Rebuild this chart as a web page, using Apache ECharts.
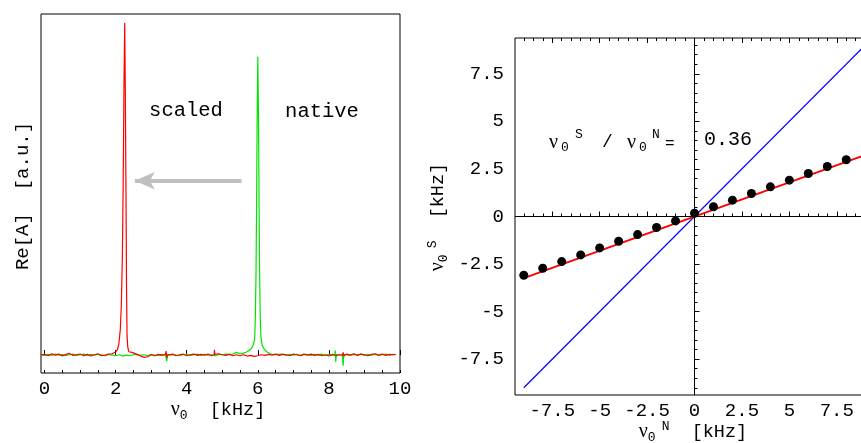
<!DOCTYPE html>
<html><head><meta charset="utf-8">
<script src="https://cdn.jsdelivr.net/npm/echarts@6/dist/echarts.min.js"></script>
<style>html,body{margin:0;padding:0;background:#fff}#c{width:861px;height:443px}</style>
</head><body><div id="c"></div>
<script>
// ---- Left panel: spectra (x in kHz, y in a.u.) ----
const redSpectrum = [[-0.1,0.001],[0,0.002],[0.1,-0.002],[0.2,0.004],[0.3,0],[0.4,0.003],[0.5,-0.003],[0.6,0.002],[0.7,0.005],[0.8,-0.001],[0.9,0.001],[1,0.003],[1.1,-0.002],[1.2,0.002],[1.3,-0.003],[1.4,0.001],[1.5,0.004],[1.6,-0.002],[1.7,0],[1.8,0.003],[1.9,0.004],
 [2.0,0.009],[2.05,0.016],[2.09,0.034],[2.13,0.075],[2.16,0.15],[2.19,0.3],[2.215,0.55],[2.235,0.82],[2.255,1],[2.272,0.8],[2.29,0.5],[2.305,0.22],[2.32,0.06],[2.34,0.025],[2.37,0.01],[2.4,0.008],[2.42,0.012],[2.46,0.008],[2.5,0.004],
 [2.6,0.002],[2.7,-0.003],[2.8,-0.007],[2.85,-0.002],[2.9,-0.005],[3,0.001],[3.1,-0.002],[3.2,0.002],[3.3,-0.001],[3.4,0.002],[3.42,0.012],[3.44,-0.008],[3.46,0.001],[3.6,0.002],[3.7,-0.002],[3.8,0.001],[3.9,0.003],[4,-0.002],[4.1,0.001],[4.2,0.003],[4.3,-0.001],[4.4,0.002],[4.5,0],[4.6,0.003],[4.7,-0.002],[4.77,0.001],[4.78,0.016],[4.79,0.002],[4.9,0.004],[5,0.001],[5.1,-0.001],[5.2,0.002],[5.3,-0.002],[5.4,0.001],[5.5,-0.002],[5.6,0.001],[5.7,-0.003],[5.8,-0.001],[5.9,-0.004],[6,-0.002],[6.1,0.001],[6.2,-0.001],[6.3,0.002],[6.4,0],[6.5,0.003],[6.6,-0.001],[6.7,0.002],[6.8,0.001],[6.9,-0.002],[7,0.003],[7.1,0.001],[7.2,-0.002],[7.3,0.002],[7.4,0],[7.5,0.003],[7.6,-0.001],[7.7,0.002],[7.8,-0.002],[7.9,0.001],[8,-0.003],[8.1,0.002],[8.2,-0.002],[8.3,0.001],[8.38,0],[8.4,0.008],[8.42,-0.003],[8.5,0.003],[8.6,0],[8.7,0.004],[8.8,-0.001],[8.9,0.003],[9,0.001],[9.1,-0.002],[9.2,0.002],[9.3,0.004],[9.4,0],[9.5,0.003],[9.6,-0.001],[9.7,0.002],[9.8,0.001],[9.88,0.002]];
const greenSpectrum = [[-0.1,0],[0,-0.001],[0.1,0.002],[0.2,-0.001],[0.3,0.003],[0.4,0],[0.5,0.002],[0.6,-0.002],[0.7,0.001],[0.8,0.003],[0.9,-0.001],[1,0.001],[1.1,0.003],[1.2,-0.001],[1.3,0.002],[1.4,0],[1.5,0.002],[1.6,0.001],[1.7,-0.002],[1.8,0.002],[1.9,0],[2,-0.002],[2.1,0.001],[2.2,-0.003],[2.3,0],[2.4,-0.002],[2.5,0.001],[2.6,0.002],[2.7,-0.001],[2.8,0.001],[2.9,-0.002],[3,0.002],[3.1,0],[3.2,-0.001],[3.3,0.002],[3.4,0],[3.42,-0.006],[3.44,-0.018],[3.46,-0.002],[3.5,0.001],[3.6,0.003],[3.7,0],[3.8,-0.002],[3.9,0.001],[4,0.002],[4.1,-0.001],[4.2,0.001],[4.3,0.003],[4.4,-0.001],[4.5,0.002],[4.6,0],[4.7,0.001],[4.8,-0.002],[4.9,0.002],[5,0.001],[5.1,0.003],[5.2,0.002],[5.3,0.003],[5.4,0.008],[5.45,0.007],[5.5,0.004],
 [5.6,0.006],[5.7,0.01],[5.75,0.013],[5.82,0.02],[5.88,0.032],[5.91,0.05],[5.93,0.11],[5.95,0.25],[5.965,0.45],[5.98,0.7],[6,0.898],[6.02,0.7],[6.035,0.45],[6.05,0.25],[6.07,0.11],[6.09,0.05],[6.12,0.03],[6.18,0.018],[6.25,0.01],[6.35,0.004],[6.45,0.001],
 [6.55,0.002],[6.6,0],[6.7,0.003],[6.8,-0.001],[6.9,0.002],[7,0],[7.1,0.002],[7.2,-0.001],[7.3,0.003],[7.4,0.001],[7.5,-0.001],[7.6,0.002],[7.7,0],[7.8,0.003],[7.9,-0.001],[8,0.002],[8.1,0],[8.17,0.001],[8.18,0.014],[8.19,-0.02],[8.21,0.002],[8.3,0.001],[8.38,0],[8.4,-0.032],[8.42,0.002],[8.5,0.001],[8.6,-0.001],[8.7,0.002],[8.8,0],[8.9,0.003],[9,-0.001],[9.1,0.002],[9.2,0],[9.3,0.002],[9.4,-0.001],[9.5,0.001],[9.6,0.003],[9.7,0],[9.8,0.002],[9.88,0.001]];
const leftXLabels = [0, 2, 4, 6, 8, 10];
const leftXMinor = [0,0.5,1,1.5,2,2.5,3,3.5,4,4.5,5,5.5,6,6.5,7,7.5,8,8.5,9,9.5,10];
const arrowFrom = [5.54, 0.525];
const arrowTo = [2.54, 0.525];

// ---- Right panel: scaled vs native frequency (kHz) ----
const nativeFreq = [-9,-8,-7,-6,-5,-4,-3,-2,-1,0,1,2,3,4,5,6,7,8];
const scaledFreq = [-3.09,-2.72,-2.37,-2.02,-1.65,-1.30,-0.95,-0.58,-0.23,0.17,0.51,0.86,1.21,1.56,1.91,2.26,2.63,2.98];
const identityX = [-9, 9.4];
const identityY = [-9, 9.4];
const fitX = [-9, 9.4];
const fitY = [-3.24, 3.38];
const ratioText = '0.36';
const rightLabels = [-7.5, -5, -2.5, 0, 2.5, 5, 7.5];
const rightMinor = [-9,-8.5,-8,-7.5,-7,-6.5,-6,-5.5,-5,-4.5,-4,-3.5,-3,-2.5,-2,-1.5,-1,-0.5,0,0.5,1,1.5,2,2.5,3,3.5,4,4.5,5,5.5,6,6.5,7,7.5,8,8.5,9];

const MONO = '"Liberation Mono", "DejaVu Sans Mono", monospace';
const SERIF = '"Liberation Serif", "DejaVu Serif", serif';
const tickFont = {color:'#000', fontFamily: MONO, fontSize: 19};

function valAxis(o){
  return Object.assign({type:'value', splitLine:{show:false}, axisLine:{show:false}}, o);
}
const LX = {min:-0.1, max:10};
const RX = {min:-9.463, max:9.41};
const RY = {min:-9.38, max:9.38};

const chart = echarts.init(document.getElementById('c'), null, {renderer:'canvas'});
chart.setOption({
  animation:false,
  backgroundColor:'#fff',
  grid:[
    {left:41, top:14, width:359, height:359, show:true, borderColor:'#000', borderWidth:1, containLabel:false, outerBoundsMode:'none'},
    {left:515, top:38, width:358, height:357, show:true, borderColor:'#000', borderWidth:1, containLabel:false, outerBoundsMode:'none'}
  ],
  xAxis:[
    valAxis(Object.assign({gridIndex:0, position:'bottom', axisTick:{show:true, inside:true, length:5, customValues:leftXLabels, lineStyle:{color:'#000'}}, axisLabel:Object.assign({show:true, margin:6, customValues:leftXLabels}, tickFont)}, LX)),
    valAxis(Object.assign({gridIndex:0, position:'bottom', axisTick:{show:true, inside:true, length:3, customValues:leftXMinor, lineStyle:{color:'#000'}}, axisLabel:{show:false}}, LX)),
    valAxis(Object.assign({gridIndex:1, position:'bottom', axisTick:{show:true, inside:true, length:5, customValues:rightLabels, lineStyle:{color:'#000'}}, axisLabel:Object.assign({show:true, margin:6, customValues:rightLabels}, tickFont)}, RX)),
    valAxis(Object.assign({gridIndex:1, position:'bottom', axisTick:{show:true, inside:true, length:3, customValues:rightMinor, lineStyle:{color:'#000'}}, axisLabel:{show:false}}, RX)),
    valAxis(Object.assign({gridIndex:1, position:'top', axisTick:{show:true, inside:true, length:5, customValues:rightLabels, lineStyle:{color:'#000'}}, axisLabel:{show:false}}, RX)),
    valAxis(Object.assign({gridIndex:1, position:'top', axisTick:{show:true, inside:true, length:3, customValues:rightMinor, lineStyle:{color:'#000'}}, axisLabel:{show:false}}, RX))
  ],
  yAxis:[
    valAxis({gridIndex:0, min:-0.054, max:1.027, axisTick:{show:false}, axisLabel:{show:false}}),
    valAxis(Object.assign({gridIndex:1, position:'left', axisTick:{show:true, inside:true, length:5, customValues:rightLabels, lineStyle:{color:'#000'}}, axisLabel:Object.assign({show:true, margin:11, customValues:rightLabels}, tickFont)}, RY)),
    valAxis(Object.assign({gridIndex:1, position:'left', axisTick:{show:true, inside:true, length:3, customValues:rightMinor, lineStyle:{color:'#000'}}, axisLabel:{show:false}}, RY))
  ],
  series:[
    {type:'line', xAxisIndex:0, yAxisIndex:0, data:greenSpectrum, showSymbol:false, symbol:'none', lineStyle:{color:'#00e600', width:1.2}, z:2},
    {type:'line', xAxisIndex:0, yAxisIndex:0, data:redSpectrum, showSymbol:false, symbol:'none', lineStyle:{color:'#ff0000', width:1.2}, z:3,
      markLine:{silent:true, symbol:['none','arrow'], symbolSize:[13,20], label:{show:false},
        lineStyle:{color:'#bfbfbf', width:4, type:'solid'},
        data:[[{coord:arrowFrom},{coord:arrowTo}]]}},
    // zero reference lines spanning the axis range
    {type:'line', xAxisIndex:2, yAxisIndex:1, data:[[0, RY.min],[0, RY.max]], showSymbol:false, symbol:'none', silent:true, lineStyle:{color:'#000', width:1, type:'solid'}, z:1},
    {type:'line', xAxisIndex:2, yAxisIndex:1, data:[[RX.min, 0],[RX.max, 0]], showSymbol:false, symbol:'none', silent:true, lineStyle:{color:'#000', width:1, type:'solid'}, z:1},
    {type:'line', xAxisIndex:2, yAxisIndex:1, data:identityX.map((x,i)=>[x, identityY[i]]), showSymbol:false, symbol:'none', lineStyle:{color:'#0000ff', width:1.2}, z:3},
    {type:'line', xAxisIndex:2, yAxisIndex:1, data:fitX.map((x,i)=>[x, fitY[i]]), showSymbol:false, symbol:'none', lineStyle:{color:'#ff0000', width:2}, z:4},
    {type:'scatter', xAxisIndex:2, yAxisIndex:1, data:nativeFreq.map((x,i)=>[x, scaledFreq[i]]), symbol:'circle', symbolSize:9, itemStyle:{color:'#000', opacity:1}, z:5}
  ],
  graphic:[
    {type:'text', x:186, y:111, style:{text:'scaled', font:'20.5px '+MONO, fill:'#000', align:'center', verticalAlign:'middle'}},
    {type:'text', x:322, y:112, style:{text:'native', font:'20.5px '+MONO, fill:'#000', align:'center', verticalAlign:'middle'}},
    {type:'text', x:23, y:196, rotation:Math.PI/2, style:{text:'Re[A]  [a.u.]', font:'19px '+MONO, fill:'#000', align:'center', verticalAlign:'middle'}},
    {type:'text', x:218, y:410, style:{text:'{nu|ν}{sub|0}{t|  [kHz]}', align:'center', verticalAlign:'middle', fill:'#000',
      rich:{nu:{fontFamily:SERIF, fontSize:20, lineHeight:24, fill:'#000'}, sub:{fontFamily:MONO, fontSize:13, lineHeight:14, verticalAlign:'bottom', fill:'#000'}, t:{fontFamily:MONO, fontSize:18.5, lineHeight:24, fill:'#000'}}}},
    {type:'text', x:693, y:432, style:{text:'{nu|ν}{sub|0}{sup|N}{t|  [kHz]}', align:'center', verticalAlign:'middle', fill:'#000',
      rich:{nu:{fontFamily:SERIF, fontSize:20, lineHeight:24, fill:'#000'}, sub:{fontFamily:MONO, fontSize:13, lineHeight:14, verticalAlign:'bottom', fill:'#000'}, sup:{fontFamily:MONO, fontSize:13, lineHeight:14, verticalAlign:'top', padding:[0,0,0,6], fill:'#000'}, t:{fontFamily:MONO, fontSize:18.5, lineHeight:24, fill:'#000'}}}},
    {type:'text', x:438, y:217, rotation:Math.PI/2, style:{text:'{nu|ν}{sub|0}{sup|S}{t|  [kHz]}', align:'center', verticalAlign:'middle', fill:'#000',
      rich:{nu:{fontFamily:SERIF, fontSize:20, lineHeight:24, fill:'#000'}, sub:{fontFamily:MONO, fontSize:13, lineHeight:14, verticalAlign:'bottom', fill:'#000'}, sup:{fontFamily:MONO, fontSize:13, lineHeight:14, verticalAlign:'top', padding:[0,0,0,6], fill:'#000'}, t:{fontFamily:MONO, fontSize:18.5, lineHeight:24, fill:'#000'}}}},
    {type:'text', x:549, y:143, style:{text:'ν', font:'20px '+SERIF, fill:'#000', align:'left', verticalAlign:'middle'}},
    {type:'text', x:561, y:148, style:{text:'0', font:'13px '+MONO, fill:'#000', align:'left', verticalAlign:'middle'}},
    {type:'text', x:575, y:135, style:{text:'S', font:'13px '+MONO, fill:'#000', align:'left', verticalAlign:'middle'}},
    {type:'text', x:602, y:142, style:{text:'/', font:'18px '+MONO, fill:'#000', align:'left', verticalAlign:'middle'}},
    {type:'text', x:627, y:143, style:{text:'ν', font:'20px '+SERIF, fill:'#000', align:'left', verticalAlign:'middle'}},
    {type:'text', x:639, y:148, style:{text:'0', font:'13px '+MONO, fill:'#000', align:'left', verticalAlign:'middle'}},
    {type:'text', x:652, y:135, style:{text:'N', font:'13px '+MONO, fill:'#000', align:'left', verticalAlign:'middle'}},
    {type:'text', x:665, y:144, style:{text:'=', font:'16px '+MONO, fill:'#000', align:'left', verticalAlign:'middle'}},
    {type:'text', x:704, y:140, style:{text:ratioText, font:'20px '+MONO, fill:'#000', align:'left', verticalAlign:'middle'}}
  ]
});
</script></body></html>
